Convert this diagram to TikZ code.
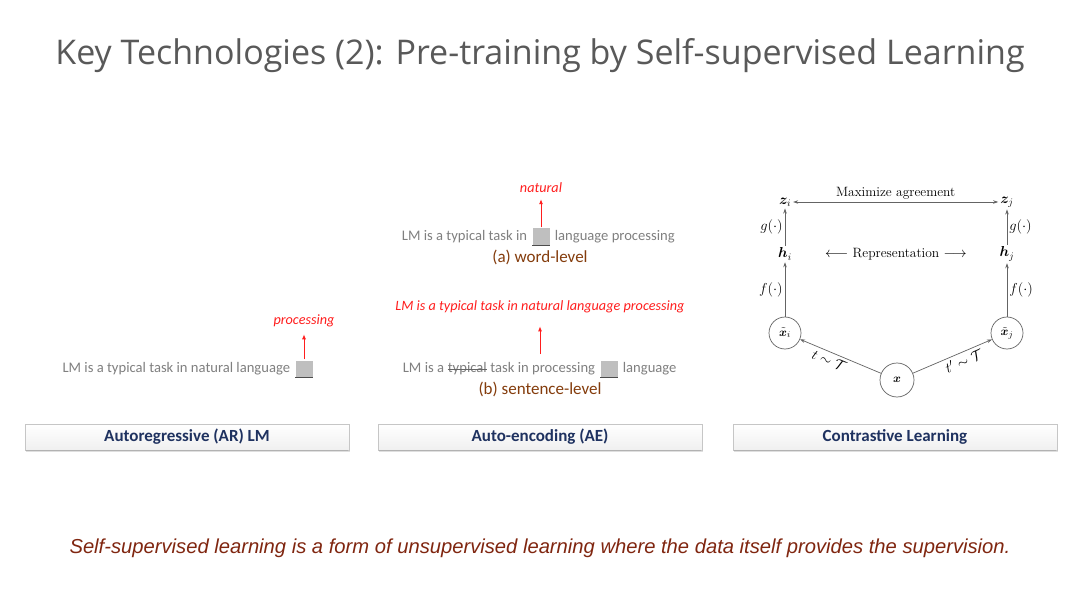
\documentclass[tikz,border=0pt]{standalone}
\usepackage[no-math]{fontspec}
\usepackage{amsmath,bm}
\usepackage{tikz}
\usetikzlibrary{arrows.meta,positioning,shadows}

\newfontfamily\titlefont{Open Sans}
\newfontfamily\calibrifont{Carlito}
\newfontfamily\arialfont{Liberation Sans}

\definecolor{textgray}{RGB}{128,128,128}
\definecolor{predred}{RGB}{255,30,30}
\definecolor{captbrown}{RGB}{132,60,12}
\definecolor{barnavy}{RGB}{31,50,96}
\definecolor{notebrown}{RGB}{128,38,16}
\definecolor{linegray}{RGB}{100,100,100}

\begin{document}
\begin{tikzpicture}[x=1pt, y=-1pt,
    sent/.style={font=\calibrifont\fontsize{14.6}{17}\selectfont, text=textgray, inner sep=0pt, text height=10pt, text depth=3.4pt},
    pred/.style={font=\calibrifont\itshape\fontsize{14.2}{17}\selectfont, text=predred, inner sep=1pt},
    capt/.style={font=\calibrifont\fontsize{17}{19}\selectfont, text=captbrown, inner sep=0pt},
    gap/.style={fill=gray!50, minimum size=17pt, inner sep=0pt},
    bar/.style={draw=gray!45, top color=white, bottom color=gray!12, minimum width=324pt, minimum height=26pt,
        font=\calibrifont\bfseries\fontsize{17}{19}\selectfont, text=barnavy,
        drop shadow={shadow xshift=1pt, shadow yshift=-2pt, opacity=0.25}},
    redarrow/.style={-{Latex[length=5pt,width=4pt]}, draw=predred, line width=0.9pt},
    arrow/.style={-{Stealth[length=5pt,width=3.5pt]}, draw=linegray, line width=0.7pt},
    math/.style={font=\fontsize{14}{16}\selectfont, inner sep=2pt},
    view/.style={circle, draw=linegray, line width=0.7pt, minimum size=32pt, inner sep=0pt, font=\fontsize{13}{15}\selectfont}
]
\useasboundingbox (0,0) rectangle (1080,607);
\fill[white] (0,0) rectangle (1080,607);

\node[font=\titlefont\fontsize{34}{40}\selectfont, text=black!65] (title) at (540,56)
    {Key Technologies (2): Pre-training by Self-supervised Learning};

% autoregressive
\node[gap] (gapA) at (304,369) {};
\draw[gray!60!black, line width=1pt] (gapA.south west) -- (gapA.south east);
\node[sent, left=5pt of gapA] (ctxA) {LM is a typical task in natural language};
\node[pred, above=32pt of gapA] (predA) {processing};
\draw[redarrow, shorten >=6pt, shorten <=1pt] (gapA) -- (predA);
\node[bar] (barA) at (187,437) {Autoregressive (AR) LM};
\draw[gray!60, line width=1.2pt] ([xshift=1pt]barA.south west) -- ([xshift=-1pt]barA.south east);

% auto-encoding
\node[gap] (gapB) at (541,237) {};
\draw[gray!60!black, line width=1pt] (gapB.south west) -- (gapB.south east);
\node[sent, left=5pt of gapB] (ctxB1) {LM is a typical task in};
\node[sent, right=5pt of gapB] (ctxB2) {language processing};
\node[pred] (predB) at (541,188) {natural};
\draw[redarrow, shorten >=5pt, shorten <=1pt] (gapB) -- (predB);
\node[capt] (captB) at (540,257) {(a) word-level};

\node[gap] (gapC) at (609,369) {};
\draw[gray!60!black, line width=1pt] (gapC.south west) -- (gapC.south east);
\node[sent, left=5pt of gapC] (ctxC3) {task in processing};
\node[sent, left=3.3pt of ctxC3] (typo) {typical};
\draw[gray!80!black, line width=0.8pt] (typo.west) -- (typo.east);
\node[sent, left=3.3pt of typo] (ctxC1) {LM is a};
\node[sent, right=5pt of gapC] (ctxC2) {language};
\node[pred] (predC) at (540,307) {LM is a typical task in natural language processing};
\draw[redarrow, shorten >=12pt, shorten <=8pt] (predC.south |- ctxC3.north) -- (predC.south);
\node[capt] (captC) at (540,389) {(b) sentence-level};
\node[bar] (barB) at (540,437) {Auto-encoding (AE)};
\draw[gray!60, line width=1.2pt] ([xshift=1pt]barB.south west) -- ([xshift=-1pt]barB.south east);

% contrastive
\node[math] (zi) at (785,202) {$\bm{z}_i$};
\node[math] (zj) at (1007,202) {$\bm{z}_j$};
\node[math] (hi) at (785,254) {$\bm{h}_i$};
\node[math] (hj) at (1007,254) {$\bm{h}_j$};
\node[view] (xi) at (785,333) {$\tilde{\bm{x}}_i$};
\node[view] (xj) at (1007,333) {$\tilde{\bm{x}}_j$};
\node[view, minimum size=34pt] (x) at (897,380) {$\bm{x}$};
\node[math, font=\fontsize{13.5}{16}\selectfont] (rep) at (896,254) {$\longleftarrow$ Representation $\longrightarrow$};
\draw[arrow, {Stealth[length=5pt,width=3.5pt]}-{Stealth[length=5pt,width=3.5pt]}] (zi) -- node[math, above, font=\fontsize{13.5}{16}\selectfont] {Maximize agreement} (zj);
\draw[arrow] (hi) -- node[math, left] {$g(\cdot)$} (zi);
\draw[arrow] (hj) -- node[math, right] {$g(\cdot)$} (zj);
\draw[arrow] (xi) -- node[math, left] {$f(\cdot)$} (hi);
\draw[arrow] (xj) -- node[math, right] {$f(\cdot)$} (hj);
\draw[arrow] (x) -- node[math, below, sloped, inner sep=3pt, pos=0.6] {$t\sim\mathcal{T}$} (xi);
\draw[arrow] (x) -- node[math, below, sloped, inner sep=3pt, pos=0.6] {$t'\sim\mathcal{T}$} (xj);
\node[bar] (barC) at (895,437) {Contrastive Learning};
\draw[gray!60, line width=1.2pt] ([xshift=1pt]barC.south west) -- ([xshift=-1pt]barC.south east);

\node[font=\arialfont\itshape\fontsize{20.2}{24}\selectfont, text=notebrown] (note) at (540,548)
    {Self-supervised learning is a form of unsupervised learning where the data itself provides the supervision.};
\end{tikzpicture}
\end{document}
